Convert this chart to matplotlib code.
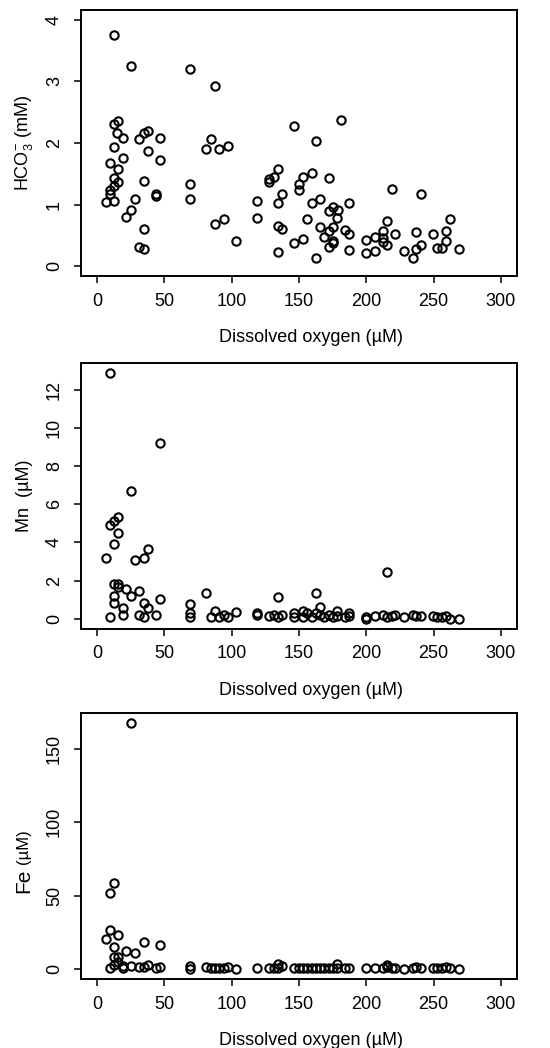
import matplotlib
matplotlib.use('Agg')
import matplotlib.pyplot as plt

plt.rcParams['font.family'] = ['Liberation Sans', 'DejaVu Sans']
plt.rcParams['mathtext.default'] = 'regular'

# bicarbonate vs dissolved oxygen
oxygen_hco3 = [12.6, 25.0, 68.8, 87.6, 12.6, 15.8, 15.1, 19.1, 12.6, 9.4, 19.1, 15.8,
               12.6, 15.8, 12.6, 9.4, 9.4, 6.2, 12.6, 28.2, 25.0, 21.8, 31.2, 34.6,
               37.9, 47.0, 37.9, 47.0, 34.6, 43.8, 43.8, 34.6, 31.4, 34.6, 68.8, 68.8,
               84.4, 81.2, 90.6, 97.0, 87.6, 94.0, 103.0, 118.5, 118.5, 127.9, 127.9, 131.4,
               134.4, 134.4, 137.6, 134.4, 137.6, 134.4, 146.5, 150.0, 150.0, 152.9, 159.6, 162.6,
               159.4, 165.6, 156.1, 165.6, 146.5, 152.9, 162.6, 172.0, 180.9, 172.0, 175.0, 178.7,
               178.4, 175.0, 172.0, 168.5, 175.0, 175.0, 172.0, 187.3, 184.1, 187.3, 187.3, 199.7,
               199.7, 206.2, 206.2, 212.3, 212.3, 212.3, 215.5, 215.5, 218.8, 221.7, 227.9, 234.4,
               237.3, 237.3, 240.5, 240.5, 249.7, 252.9, 255.9, 259.1, 259.1, 262.3, 268.8]
hco3 = [3.76, 3.25, 3.20, 2.92, 2.31, 2.36, 2.17, 2.08, 1.94, 1.68, 1.76, 1.58,
        1.43, 1.37, 1.30, 1.24, 1.18, 1.05, 1.06, 1.09, 0.91, 0.80, 2.06, 2.17,
        2.20, 2.08, 1.87, 1.73, 1.38, 1.18, 1.14, 0.61, 0.31, 0.28, 1.34, 1.09,
        2.07, 1.90, 1.90, 1.95, 0.69, 0.77, 0.41, 1.06, 0.79, 1.42, 1.36, 1.45,
        1.58, 1.02, 1.17, 0.66, 0.61, 0.23, 2.28, 1.33, 1.23, 1.45, 1.51, 2.03,
        1.02, 1.09, 0.76, 0.63, 0.37, 0.44, 0.13, 1.44, 2.37, 0.89, 0.96, 0.92,
        0.79, 0.63, 0.57, 0.47, 0.41, 0.37, 0.31, 1.03, 0.59, 0.53, 0.26, 0.43,
        0.22, 0.48, 0.25, 0.57, 0.45, 0.39, 0.74, 0.34, 1.25, 0.53, 0.25, 0.14,
        0.56, 0.28, 1.17, 0.34, 0.53, 0.30, 0.30, 0.57, 0.41, 0.77, 0.28]

# manganese vs dissolved oxygen
oxygen_mn = [9.4, 47.0, 25.0, 9.4, 12.6, 15.8, 15.8, 12.6, 6.2, 28.2, 34.6, 37.9,
             12.6, 15.8, 15.8, 21.8, 31.4, 12.6, 25.0, 12.6, 47.0, 34.6, 37.9, 19.1,
             19.1, 31.4, 34.6, 43.8, 9.4, 68.8, 68.8, 68.8, 81.2, 87.6, 84.4, 90.6,
             94.0, 97.0, 103.0, 118.5, 118.5, 127.9, 131.4, 134.4, 134.4, 137.6, 146.5, 146.5,
             152.9, 152.9, 156.1, 159.4, 162.6, 162.6, 165.6, 165.6, 168.5, 172.0, 175.0, 178.4,
             178.4, 184.1, 187.3, 187.3, 199.7, 199.7, 206.2, 212.3, 215.5, 215.5, 218.8, 221.7,
             227.9, 234.4, 237.3, 240.5, 249.7, 252.9, 255.9, 259.1, 262.3, 268.8]
mn = [12.89, 9.20, 6.67, 4.93, 5.10, 5.33, 4.49, 3.91, 3.20, 3.09, 3.20, 3.65,
      1.80, 1.80, 1.66, 1.55, 1.45, 1.20, 1.20, 0.85, 1.05, 0.85, 0.56, 0.56,
      0.19, 0.19, 0.07, 0.21, 0.07, 0.79, 0.32, 0.08, 1.36, 0.39, 0.07, 0.07,
      0.21, 0.07, 0.35, 0.32, 0.21, 0.12, 0.21, 1.13, 0.07, 0.21, 0.32, 0.07,
      0.42, 0.07, 0.32, 0.07, 1.36, 0.28, 0.64, 0.21, 0.07, 0.21, 0.07, 0.42,
      0.12, 0.07, 0.32, 0.12, 0.07, 0.00, 0.12, 0.19, 2.46, 0.07, 0.12, 0.19,
      0.07, 0.19, 0.12, 0.12, 0.12, 0.07, 0.07, 0.12, 0.00, 0.00]

# iron vs dissolved oxygen
oxygen_fe = [25.0, 12.6, 9.4, 9.4, 6.2, 15.8, 12.6, 34.6, 47.0, 21.8, 28.2, 12.6,
             15.8, 15.8, 12.6, 19.1, 25.0, 37.9, 31.4, 34.6, 9.4, 19.1, 43.8, 47.0,
             68.8, 68.8, 81.2, 84.4, 87.6, 90.6, 94.0, 97.0, 103.0, 118.5, 127.9, 131.4,
             134.4, 134.4, 137.6, 146.5, 150.0, 152.9, 156.1, 159.4, 162.6, 165.6, 168.5, 172.0,
             175.0, 178.4, 178.4, 184.1, 187.3, 199.7, 206.2, 212.3, 215.5, 215.5, 218.8, 221.7,
             227.9, 234.4, 237.3, 240.5, 249.7, 252.9, 255.9, 259.1, 262.3, 268.8]
fe = [167.9, 58.7, 51.9, 26.4, 20.7, 23.0, 15.0, 18.2, 16.6, 12.3, 10.9, 8.2,
      8.2, 4.8, 3.2, 2.4, 2.4, 3.2, 1.6, 1.6, 0.5, 0.5, 0.5, 1.6,
      2.0, 0.3, 1.6, 0.5, 0.5, 0.5, 0.5, 1.6, 0.3, 0.5, 0.5, 0.5,
      3.6, 0.5, 2.0, 0.5, 0.5, 0.5, 0.5, 0.5, 0.5, 0.5, 0.5, 0.5,
      0.5, 3.6, 0.5, 0.5, 0.5, 0.5, 0.5, 0.5, 2.8, 1.6, 0.5, 0.5,
      0.3, 0.5, 1.6, 0.5, 0.5, 0.5, 0.5, 1.6, 0.5, 0.3]

xticks = [0, 50, 100, 150, 200, 250, 300]
xlabel = 'Dissolved oxygen (\u00b5M)'

fig = plt.figure(figsize=(5.5, 10.48), dpi=100)
boxes = [[0.1473, 0.7366, 0.7927, 0.2538],
         [0.1473, 0.4001, 0.7927, 0.2538],
         [0.1473, 0.0658, 0.7927, 0.2541]]
panels = [(oxygen_hco3, hco3, [0, 1, 2, 3, 4], (-0.16, 4.16)),
          (oxygen_mn, mn, [0, 2, 4, 6, 8, 10, 12], (-0.52, 13.41)),
          (oxygen_fe, fe, [0, 50, 100, 150], (-6.7, 174.6))]

axes = []
for box, (x, y, yt, ylim) in zip(boxes, panels):
    ax = fig.add_axes(box)
    ax.plot(x, y, 'o', mfc='none', mec='black', ms=6.0, mew=1.5)
    ax.set_xlim(-12, 312)
    ax.set_ylim(*ylim)
    ax.set_xticks(xticks)
    ax.set_yticks(yt)
    for s in ax.spines.values():
        s.set_linewidth(1.4)
    ax.tick_params(length=5, width=1.1, labelsize=13, pad=7)
    ax.tick_params(axis='y', pad=8)
    for lab in ax.get_yticklabels():
        lab.set_rotation(90)
        lab.set_va('center')
    ax.set_xlabel(xlabel, fontsize=13, va='center')
    ax.xaxis.set_label_coords(0.527, -0.231)
    axes.append(ax)

axes[0].set_ylabel('HCO$_3^{-}$ (mM)', fontsize=13, va='center')
axes[0].yaxis.set_label_coords(-0.13, 0.5)
axes[1].set_ylabel('Mn  (\u00b5M)', fontsize=13, va='center')
axes[1].yaxis.set_label_coords(-0.13, 0.5)

# Fe label: larger element symbol, smaller unit above it
axes[2].text(-0.119, 0.323, 'Fe', fontsize=15, rotation=90, rotation_mode='anchor',
             ha='left', va='baseline', transform=axes[2].transAxes)
axes[2].text(-0.121, 0.432, '(\u00b5M)', fontsize=12, rotation=90, rotation_mode='anchor',
             ha='left', va='baseline', transform=axes[2].transAxes)

fig.savefig('out.png', dpi=100)
